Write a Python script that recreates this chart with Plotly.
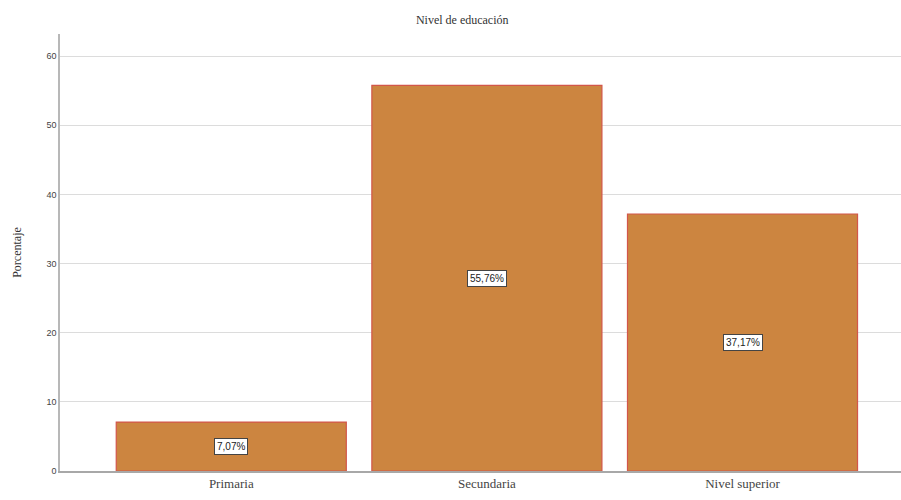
import plotly.graph_objects as go

categorias = ["Primaria", "Secundaria", "Nivel superior"]
porcentajes = [7.07, 55.76, 37.17]
etiquetas = ["7,07%", "55,76%", "37,17%"]
ticks_y = [0, 10, 20, 30, 40, 50, 60]

fig = go.Figure()
fig.add_trace(go.Bar(
    x=categorias,
    y=porcentajes,
    width=0.9,
    marker=dict(color="#CC8540", line=dict(color="#D2564A", width=1.2)),
    hoverinfo="skip",
))

# value labels in white boxes at half the bar height
for cat, val, txt in zip(categorias, porcentajes, etiquetas):
    fig.add_annotation(
        x=cat, y=val / 2, text=txt, showarrow=False,
        font=dict(family="Liberation Sans, Arial", size=10, color="#222"),
        bgcolor="white", bordercolor="#444", borderwidth=1, borderpad=2,
    )

fig.update_layout(
    width=901, height=500,
    margin=dict(l=60, r=0, t=34, b=29),
    paper_bgcolor="white", plot_bgcolor="white",
    showlegend=False,
    title=dict(text="Nivel de educación", x=0.513, xanchor="center", y=0.96, yanchor="middle",
               font=dict(family="Liberation Serif, Times New Roman", size=12, color="#333")),
    xaxis=dict(
        range=[-0.67, 2.62], showgrid=False,
        showline=True, linecolor="#a8a8a8", linewidth=1.5,
        ticks="", tickfont=dict(family="Liberation Serif, Times New Roman", size=13, color="#444"),
    ),
    yaxis=dict(
        range=[0, 63.2], tickvals=ticks_y,
        showgrid=True, gridcolor="#dcdcdc", gridwidth=1,
        showline=True, linecolor="#b8b8b8", linewidth=1.5,
        zeroline=False, ticks="",
        tickfont=dict(family="Liberation Sans, Arial", size=9, color="#444"),
        title=dict(text="Porcentaje", standoff=22,
                   font=dict(family="Liberation Serif, Times New Roman", size=12, color="#333")),
    ),
)

fig.write_html("out.html")
